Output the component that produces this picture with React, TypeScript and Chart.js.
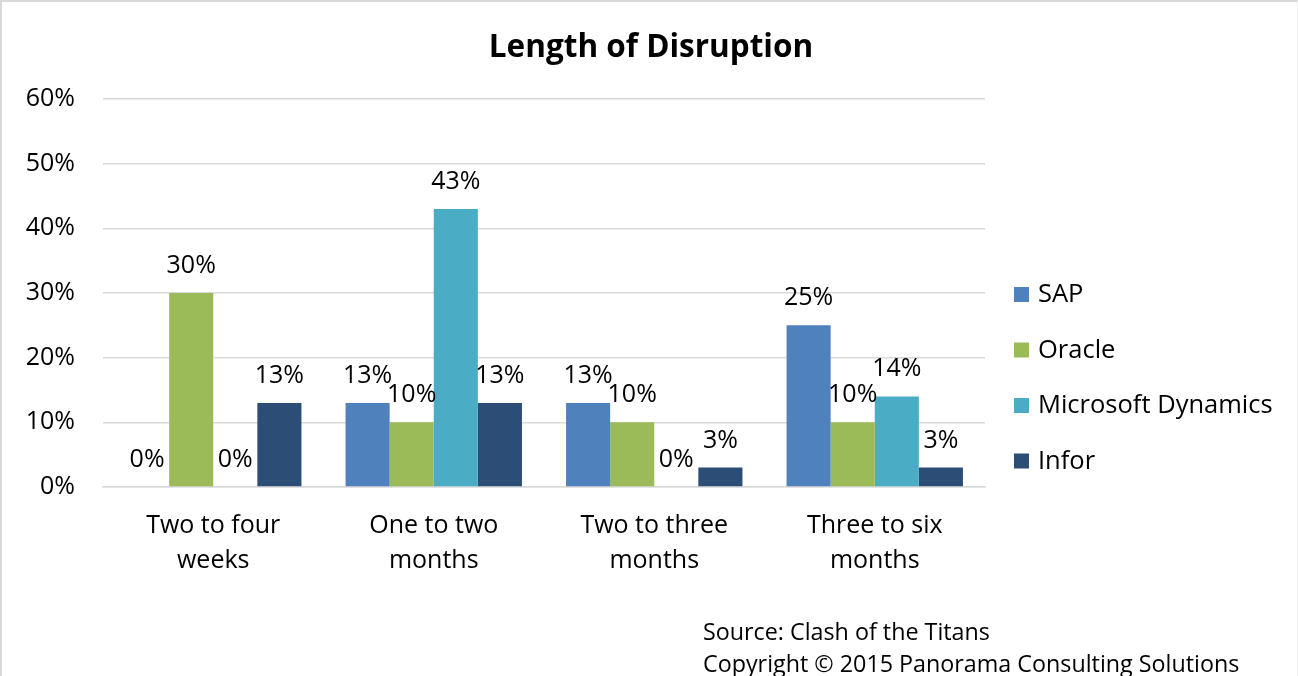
import React, { useEffect, useRef } from "react";
import { Chart, registerables } from "chart.js";

Chart.register(...registerables);

const categories: string[][] = [
  ["Two to four", "weeks"],
  ["One to two", "months"],
  ["Two to three", "months"],
  ["Three to six", "months"],
];
const seriesNames = ["SAP", "Oracle", "Microsoft Dynamics", "Infor"];
const sapValues = [0, 13, 13, 25];
const oracleValues = [30, 10, 10, 10];
const msDynamicsValues = [0, 43, 0, 14];
const inforValues = [13, 13, 3, 3];
const seriesColors = ["#4F81BD", "#9BBB59", "#4BACC6", "#2C4D75"];
const yMax = 60;
const yStep = 10;
const titleText = "Length of Disruption";
const footnoteLines = [
  "Source: Clash of the Titans",
  "Copyright © 2015 Panorama Consulting Solutions",
];

const FONT = "'Open Sans', sans-serif";

const decorPlugin = {
  id: "decor",
  beforeDraw(chart: any) {
    const ctx = chart.ctx;
    ctx.save();
    ctx.fillStyle = "#ffffff";
    ctx.fillRect(0, 0, chart.width, chart.height);
    ctx.fillStyle = "#d9d9d9";
    ctx.fillRect(0, 0, chart.width, 2);
    ctx.fillRect(0, 0, 2, chart.height);
    ctx.fillStyle = "#eeeeee";
    ctx.fillRect(chart.width - 1, 0, 1, chart.height);
    ctx.restore();
  },
  afterDraw(chart: any) {
    const ctx = chart.ctx;
    ctx.save();
    // title
    ctx.fillStyle = "#000000";
    ctx.font = `bold 31.5px ${FONT}`;
    ctx.textAlign = "center";
    ctx.textBaseline = "alphabetic";
    ctx.fillText(titleText, 651, 57);
    // legend
    ctx.font = `25.5px ${FONT}`;
    ctx.textAlign = "left";
    const baselines = [302, 357.5, 413, 468.5];
    chart.data.datasets.forEach((ds: any, i: number) => {
      const b = baselines[i];
      ctx.fillStyle = ds.backgroundColor;
      ctx.fillRect(1014, b - 15, 15, 15);
      ctx.fillStyle = "#000000";
      ctx.fillText(ds.label, 1038, b);
    });
    // footnotes
    ctx.font = `23.3px ${FONT}`;
    footnoteLines.forEach((line, i) => {
      ctx.fillText(line, 703, 640 + i * 32);
    });
    ctx.restore();
  },
};

const labelPlugin = {
  id: "barLabels",
  afterDatasetsDraw(chart: any) {
    const ctx = chart.ctx;
    ctx.save();
    ctx.font = `25px ${FONT}`;
    ctx.fillStyle = "#000000";
    ctx.textAlign = "center";
    ctx.textBaseline = "alphabetic";
    chart.data.datasets.forEach((ds: any, di: number) => {
      const meta = chart.getDatasetMeta(di);
      meta.data.forEach((el: any, i: number) => {
        const v = ds.data[i];
        ctx.fillText(`${v}%`, el.x, el.y - 20);
      });
    });
    ctx.restore();
  },
};

export default function App() {
  const canvasRef = useRef<HTMLCanvasElement | null>(null);

  useEffect(() => {
    document.body.style.margin = "0";
    const canvas = canvasRef.current;
    if (!canvas) return;
    const allValues = [sapValues, oracleValues, msDynamicsValues, inforValues];
    const chart = new Chart(canvas, {
      type: "bar",
      data: {
        labels: categories,
        datasets: seriesNames.map((name, i) => ({
          label: name,
          data: allValues[i],
          backgroundColor: seriesColors[i],
          borderWidth: 0,
          categoryPercentage: 0.8,
          barPercentage: 1.0,
        })),
      },
      options: {
        responsive: false,
        animation: false,
        layout: { padding: { top: 99, left: 0, right: 313, bottom: 0 } },
        plugins: {
          legend: { display: false },
          title: { display: false },
          tooltip: { enabled: false },
        },
        scales: {
          x: {
            grid: { display: false, drawTicks: false },
            border: { display: true, color: "#d9d9d9", width: 1.5 },
            ticks: {
              color: "#000000",
              font: { family: FONT, size: 25, lineHeight: 1.4 },
              padding: 21,
              maxRotation: 0,
              autoSkip: false,
            },
            afterFit(scale: any) {
              scale.height = 676 - 487;
            },
          },
          y: {
            min: 0,
            max: yMax,
            grid: { color: "#d9d9d9", lineWidth: 1.5, drawTicks: false },
            border: { display: false },
            ticks: {
              stepSize: yStep,
              color: "#000000",
              font: { family: FONT, size: 25 },
              padding: 28,
              callback: (v: any) => `${v}%`,
            },
            afterFit(scale: any) {
              scale.width = 103;
            },
          },
        },
      },
      plugins: [decorPlugin, labelPlugin],
    });
    return () => chart.destroy();
  }, []);

  return (
    <div style={{ width: 1298, height: 676 }}>
      <canvas ref={canvasRef} width={1298} height={676} />
    </div>
  );
}
